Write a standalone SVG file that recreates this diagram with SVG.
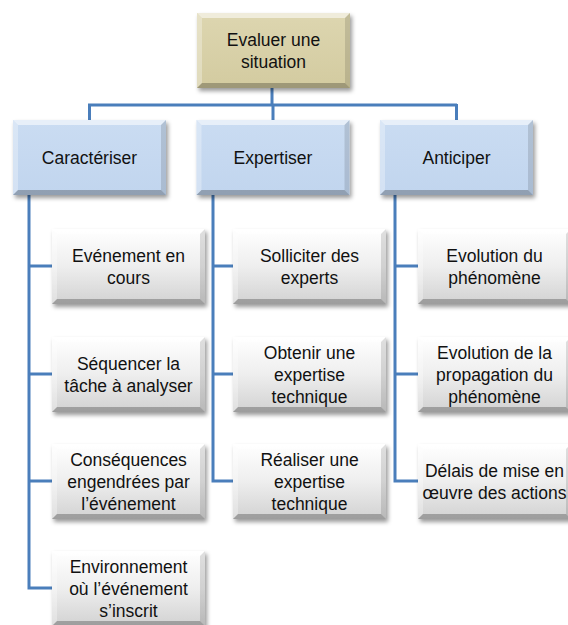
<svg xmlns="http://www.w3.org/2000/svg" xmlns:xlink="http://www.w3.org/1999/xlink" width="568" height="625" viewBox="0 0 568 625">
<defs>
<style>
text{font-family:"Liberation Sans",Arial,sans-serif;font-size:17.5px;fill:#111;text-anchor:middle}
.conn{fill:none;stroke:#4a7ebb;stroke-width:3}
.root{fill:url(#gRoot)}
.lvl1{fill:url(#gBlue)}
.leaf{fill:url(#gGrey)}
.box{filter:url(#sh)}
</style>
<linearGradient id="gRoot" x1="0" y1="0" x2="0" y2="1"><stop offset="0" stop-color="#ddd6b0"/><stop offset="1" stop-color="#d3cba0"/></linearGradient>
<linearGradient id="gBlue" x1="0" y1="0" x2="0" y2="1"><stop offset="0" stop-color="#cadcf2"/><stop offset="1" stop-color="#c1d5ee"/></linearGradient>
<linearGradient id="gGrey" x1="0" y1="0" x2="0" y2="1"><stop offset="0" stop-color="#ffffff"/><stop offset="0.5" stop-color="#eeeeee"/><stop offset="1" stop-color="#d2d2d2"/></linearGradient>
<filter id="sh" x="-10%" y="-10%" width="125%" height="130%"><feDropShadow dx="2" dy="3" stdDeviation="2" flood-color="#000" flood-opacity="0.4"/></filter>
<g id="bevel">
<polygon points="0,0 153,0 148,5 5,5" fill="#fff" fill-opacity="0.55"/>
<polygon points="0,0 5,5 5,70 0,75" fill="#fff" fill-opacity="0.3"/>
<polygon points="153,0 153,75 148,70 148,5" fill="#000" fill-opacity="0.12"/>
<polygon points="0,75 153,75 148,70 5,70" fill="#000" fill-opacity="0.25"/>
</g>
</defs>
<rect width="568" height="625" fill="#fff"/>
<g id="connectors">
<path class="conn" d="M272 88V105M88 105H457M89.5 104V120M273 104V120M456.5 104V120"/>
<path class="conn" d="M29 195V588H52M29 266H52M29 374H52M29 481H52"/>
<path class="conn" d="M213 195V481H233M213 266H233M213 374H233"/>
<path class="conn" d="M395 195V481H418M395 266H418M395 374H418"/>
</g>
<g id="n-root"><rect class="root box" x="197" y="13" width="153" height="75"/><use xlink:href="#bevel" x="197" y="13"/><text x="273.5" y="45.5">Evaluer une</text><text x="273.5" y="67.5">situation</text></g>
<g id="n-caract"><rect class="lvl1 box" x="13" y="120" width="153" height="75"/><use xlink:href="#bevel" x="13" y="120"/><text x="89.5" y="163.5">Caractériser</text></g>
<g id="n-expert"><rect class="lvl1 box" x="196.5" y="120" width="153" height="75"/><use xlink:href="#bevel" x="196.5" y="120"/><text x="273" y="163.5">Expertiser</text></g>
<g id="n-antic"><rect class="lvl1 box" x="380" y="120" width="153" height="75"/><use xlink:href="#bevel" x="380" y="120"/><text x="456.5" y="163.5">Anticiper</text></g>

<g id="n-c1"><rect class="leaf box" x="52" y="229" width="153" height="75"/><use xlink:href="#bevel" x="52" y="229"/><text x="128.5" y="261.5">Evénement en</text><text x="128.5" y="283.5">cours</text></g>
<g id="n-c2"><rect class="leaf box" x="52" y="337" width="153" height="75"/><use xlink:href="#bevel" x="52" y="337"/><text x="128.5" y="369.5">Séquencer la</text><text x="128.5" y="391.5">tâche à analyser</text></g>
<g id="n-c3"><rect class="leaf box" x="52" y="444" width="153" height="75"/><use xlink:href="#bevel" x="52" y="444"/><text x="128.5" y="465.5">Conséquences</text><text x="128.5" y="487.5">engendrées par</text><text x="128.5" y="509.5">l’événement</text></g>
<g id="n-c4"><rect class="leaf box" x="52" y="551" width="153" height="75"/><use xlink:href="#bevel" x="52" y="551"/><text x="128.5" y="572.5">Environnement</text><text x="128.5" y="594.5">où l’événement</text><text x="128.5" y="616.5">s’inscrit</text></g>

<g id="n-e1"><rect class="leaf box" x="233" y="229" width="153" height="75"/><use xlink:href="#bevel" x="233" y="229"/><text x="309.5" y="261.5">Solliciter des</text><text x="309.5" y="283.5">experts</text></g>
<g id="n-e2"><rect class="leaf box" x="233" y="337" width="153" height="75"/><use xlink:href="#bevel" x="233" y="337"/><text x="309.5" y="358.5">Obtenir une</text><text x="309.5" y="380.5">expertise</text><text x="309.5" y="402.5">technique</text></g>
<g id="n-e3"><rect class="leaf box" x="233" y="444" width="153" height="75"/><use xlink:href="#bevel" x="233" y="444"/><text x="309.5" y="465.5">Réaliser une</text><text x="309.5" y="487.5">expertise</text><text x="309.5" y="509.5">technique</text></g>

<g id="n-a1"><rect class="leaf box" x="418" y="229" width="153" height="75"/><use xlink:href="#bevel" x="418" y="229"/><text x="494.5" y="261.5">Evolution du</text><text x="494.5" y="283.5">phénomène</text></g>
<g id="n-a2"><rect class="leaf box" x="418" y="337" width="153" height="75"/><use xlink:href="#bevel" x="418" y="337"/><text x="494.5" y="358.5">Evolution de la</text><text x="494.5" y="380.5">propagation du</text><text x="494.5" y="402.5">phénomène</text></g>
<g id="n-a3"><rect class="leaf box" x="418" y="444" width="153" height="75"/><use xlink:href="#bevel" x="418" y="444"/><text x="494.5" y="476.5">Délais de mise en</text><text x="494.5" y="498.5">œuvre des actions</text></g>
</svg>
